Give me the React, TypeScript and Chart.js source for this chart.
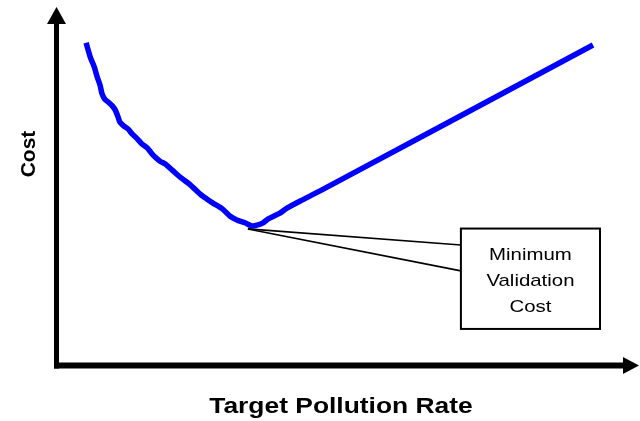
import React, { useEffect, useRef } from "react";
import { Chart, registerables } from "chart.js";

Chart.register(...registerables);

// Target pollution rate (arbitrary units, 0..100)
const rateValues = [5.0, 5.7, 6.4, 6.9, 7.4, 7.7, 8.2, 8.8, 9.5, 10.0, 10.5, 10.8, 11.5, 12.2, 12.9, 13.8, 14.6, 15.5, 16.2, 16.8, 17.7, 18.6, 19.8, 21.1, 22.9, 24.6, 25.8, 26.8, 28.4, 29.7, 30.9, 32.3, 33.5, 34.5, 35.4, 36.3, 37.3, 38.3, 39.5, 41.8, 45.2, 92.1];
// Cost (arbitrary units, 0..100)
const costValues = [90.0, 86.1, 83.3, 80.5, 78.2, 76.0, 74.3, 73.5, 72.4, 71.3, 69.3, 67.9, 66.8, 66.0, 64.6, 63.2, 61.8, 60.7, 59.3, 58.2, 57.0, 56.2, 54.5, 52.6, 50.4, 47.8, 46.4, 45.3, 43.7, 41.7, 40.6, 39.8, 38.9, 39.2, 39.8, 40.9, 41.7, 42.5, 43.9, 45.9, 48.7, 89.4];

// Annotation
const minPoint = { x: 32.8, y: 38.1 };
const calloutBox = { x1: 69.4, x2: 93.3, y1: 38.2, y2: 10.2 };
const calloutAttach = [33.6, 26.4];
const calloutLines = ["Minimum", "Validation", "Cost"];

const xTitle = "Target Pollution Rate";
const yTitle = "Cost";

const FONT = '"Liberation Sans", Arial, sans-serif';

const decorPlugin = {
  id: "decor",
  afterDatasetsDraw(chart: any) {
    const ctx = chart.ctx as CanvasRenderingContext2D;
    const xs = chart.scales.x;
    const ys = chart.scales.y;
    const area = chart.chartArea;
    const ax = xs.getPixelForValue(0) - 0.5;
    const ay = ys.getPixelForValue(0);
    ctx.save();
    // axes
    ctx.fillStyle = "#000";
    ctx.fillRect(ax - 2.5, area.top + 17, 5, ay + 3 - (area.top + 17));
    ctx.beginPath();
    ctx.moveTo(ax - 9.5, area.top + 17);
    ctx.lineTo(ax + 9.5, area.top + 17);
    ctx.lineTo(ax, area.top);
    ctx.closePath();
    ctx.fill();
    ctx.fillRect(ax - 2.5, ay - 3, area.right - 16 - (ax - 2.5), 6);
    ctx.beginPath();
    ctx.moveTo(area.right - 16, ay - 8.5);
    ctx.lineTo(area.right - 16, ay + 8.5);
    ctx.lineTo(area.right, ay);
    ctx.closePath();
    ctx.fill();

    // callout lines
    const px = xs.getPixelForValue(minPoint.x);
    const py = ys.getPixelForValue(minPoint.y);
    const bx1 = xs.getPixelForValue(calloutBox.x1);
    const bx2 = xs.getPixelForValue(calloutBox.x2);
    const by1 = ys.getPixelForValue(calloutBox.y1);
    const by2 = ys.getPixelForValue(calloutBox.y2);
    ctx.strokeStyle = "#000";
    ctx.lineWidth = 1.6;
    calloutAttach.forEach((v) => {
      ctx.beginPath();
      ctx.moveTo(px, py);
      ctx.lineTo(bx1, ys.getPixelForValue(v));
      ctx.stroke();
    });
    ctx.fillStyle = "#fff";
    ctx.fillRect(bx1, by1, bx2 - bx1, by2 - by1);
    ctx.lineWidth = 2;
    ctx.strokeRect(bx1, by1, bx2 - bx1, by2 - by1);

    // callout text
    ctx.fillStyle = "#000";
    ctx.font = `17px ${FONT}`;
    ctx.textAlign = "center";
    ctx.textBaseline = "alphabetic";
    const cx = (bx1 + bx2) / 2;
    calloutLines.forEach((t, i) => {
      ctx.save();
      ctx.translate(cx, by1 + 31 + i * 26);
      ctx.scale(1.2, 1);
      ctx.fillText(t, 0, 0);
      ctx.restore();
    });

    // axis titles
    ctx.font = `bold 22px ${FONT}`;
    ctx.save();
    ctx.translate(341, 413);
    ctx.scale(1.2, 1);
    ctx.fillText(xTitle, 0, 0);
    ctx.restore();

    ctx.font = `bold 21px ${FONT}`;
    ctx.save();
    ctx.translate(35, 154);
    ctx.rotate(-Math.PI / 2);
    ctx.fillText(yTitle, 0, 0);
    ctx.restore();
    ctx.restore();
  },
};

export default function App() {
  const ref = useRef<HTMLCanvasElement | null>(null);
  useEffect(() => {
    if (!ref.current) return;
    const chart = new Chart(ref.current, {
      type: "line",
      data: {
        datasets: [
          {
            data: rateValues.map((x, i) => ({ x, y: costValues[i] })),
            borderColor: "#0000FF",
            borderWidth: 5.5,
            pointRadius: 0,
            tension: 0.2,
            fill: false,
          },
        ],
      },
      options: {
        responsive: false,
        animation: false,
        events: [],
        layout: { padding: { left: 57, top: 7, right: 1, bottom: 55.5 } },
        plugins: { legend: { display: false }, tooltip: { enabled: false }, title: { display: false } },
        scales: {
          x: { type: "linear", min: 0, max: 100, display: false },
          y: { type: "linear", min: 0, max: 100, display: false },
        },
      },
      plugins: [decorPlugin],
    });
    return () => chart.destroy();
  }, []);
  return (
    <div style={{ position: "fixed", left: 0, top: 0, width: 640, height: 421, background: "#fff" }}>
      <canvas ref={ref} width={640} height={421} style={{ display: "block" }} />
    </div>
  );
}
